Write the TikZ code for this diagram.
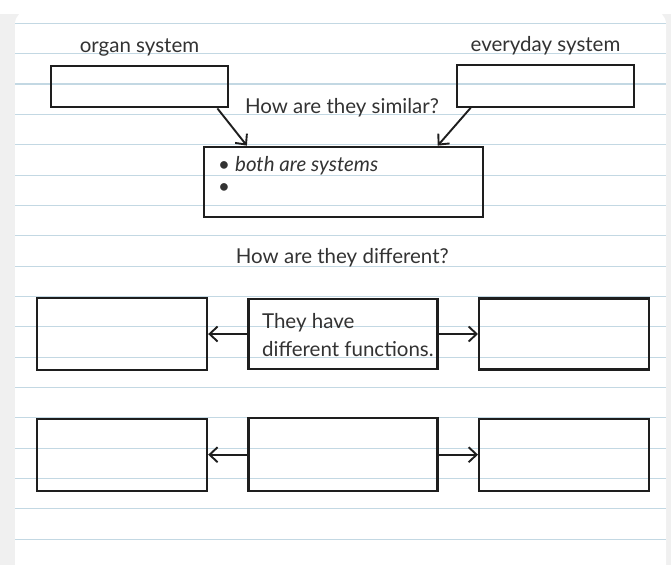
\documentclass[tikz,border=0pt]{standalone}
\usepackage{fontspec}
\setmainfont{Lato}
\usepackage{tikz}
\usetikzlibrary{arrows.meta,positioning}
\definecolor{rulecol}{HTML}{C3D8E3}
\definecolor{inkcol}{HTML}{1E1E1E}
\definecolor{textcol}{HTML}{333333}
\definecolor{shadecol}{HTML}{F0F0F0}

\begin{document}
\begin{tikzpicture}[x=1pt,y=-1pt,>={Straight Barb[length=8pt,width=15pt]},
    box/.style={rectangle,draw=inkcol,line width=2.2pt,inner sep=0pt},
    link/.style={->,draw=inkcol,line width=1.9pt},
    hand/.style={text=textcol,inner sep=0pt,font=\fontsize{20.5}{28}\selectfont}]
  \useasboundingbox (0,0) rectangle (671,565);
  % the sheet with its ruled lines
  \begin{scope}
    \clip (0,0) rectangle (671,565);
    \fill[shadecol] (0,14) rectangle (671,565);
    \fill[white,rounded corners=14pt] (15,10) rectangle (666,600);
  \end{scope}
  \foreach \k in {0,...,17}
    \draw[rulecol,line width=1.1pt] (15,23.3+30.35*\k) -- (666,23.3+30.35*\k);

  % the two systems
  \node[box,minimum width=177.6pt,minimum height=41.6pt] (osys) at (139.5,86.5) {};
  \node[box,minimum width=177.6pt,minimum height=41.6pt] (esys) at (545.5,86) {};
  \node[hand,anchor=base] (olabel) at ([yshift=12.5pt]osys.north) {organ system};
  \node[hand,anchor=base] (elabel) at ([yshift=12.5pt]esys.north) {everyday system};

  % similar
  \node[hand,anchor=base] (simq) at (342,113) {How are they similar?};
  \node[box,minimum width=278.7pt,minimum height=70.6pt] (simbox) at (343.3,182) {};
  \node[hand,anchor=base west] (bulone) at ([xshift=15pt,yshift=-26.3pt]simbox.north west) {\textbullet\ \textit{both are systems}};
  \node[hand,anchor=base west] (bultwo) at ([xshift=15pt,yshift=-48.3pt]simbox.north west) {\textbullet};
  \draw[link] ([xshift=-12pt]osys.south east) -- ([xshift=44pt]simbox.north west);
  \draw[link] ([xshift=15pt]esys.south west) -- ([xshift=-46pt]simbox.north east);

  % different
  \node[hand,anchor=base] (difq) at (342.3,263.3) {How are they different?};
  \node[box,minimum width=189pt,minimum height=70pt] (difb) at (343,334) {};
  \node[hand,align=left,anchor=west] (diftext) at ([xshift=14.5pt,yshift=-1pt]difb.west) {They have\\different functions.};
  \node[box,minimum width=170.3pt,minimum height=71.3pt] (difa) [left=39.2pt of difb] {};
  \node[box,minimum width=170pt,minimum height=71pt] (difc) [right=39.4pt of difb] {};
  \node[box,minimum width=189pt,minimum height=73pt] (difbb) [below=47pt of difb] {};
  \node[box,minimum width=170.3pt,minimum height=72pt] (difaa) [left=39.2pt of difbb] {};
  \node[box,minimum width=170pt,minimum height=72pt] (difcc) [right=39.4pt of difbb] {};
  \draw[link] (difb.west) -- (difa.east);
  \draw[link] (difb.east) -- (difc.west);
  \draw[link] (difbb.west) -- (difaa.east);
  \draw[link] (difbb.east) -- (difcc.west);
\end{tikzpicture}
\end{document}
